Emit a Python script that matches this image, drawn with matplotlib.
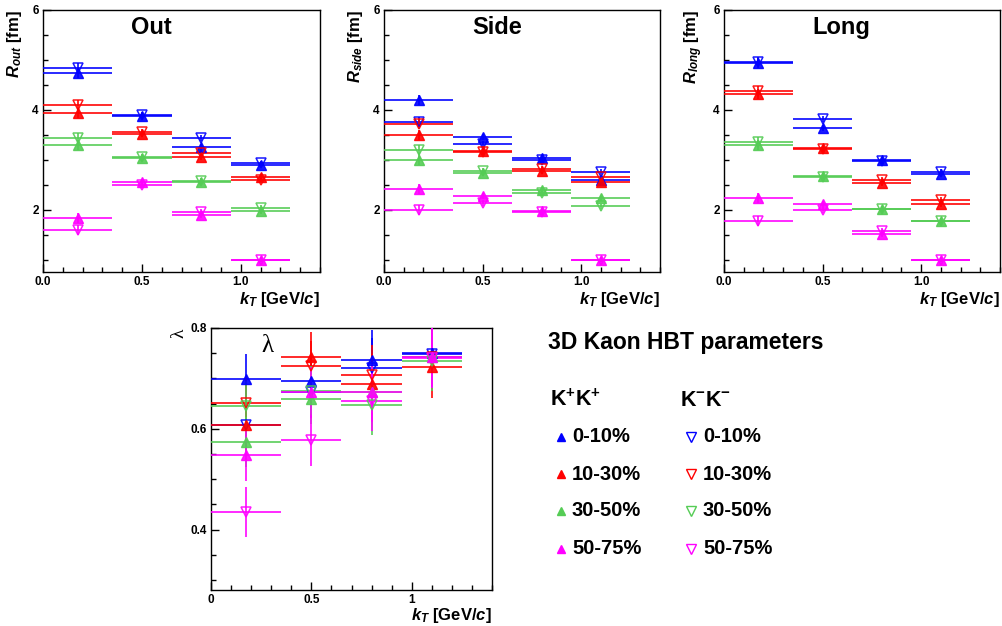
import matplotlib
matplotlib.use("Agg")
import matplotlib.pyplot as plt
from matplotlib.ticker import MultipleLocator, FixedLocator
from matplotlib.lines import Line2D

plt.rcParams['font.family'] = ['Liberation Sans', 'DejaVu Sans']
plt.rcParams['mathtext.fontset'] = 'custom'
plt.rcParams['mathtext.it'] = 'Liberation Sans:bold:italic'
plt.rcParams['mathtext.rm'] = 'Liberation Sans:bold'
plt.rcParams['mathtext.bf'] = 'Liberation Sans:bold'

# ---------------- data ----------------
kt = [0.175, 0.5, 0.8, 1.1]
kt_lo = [0.0, 0.35, 0.65, 0.95]
kt_hi = [0.35, 0.65, 0.95, 1.25]

centralities = ['0-10%', '10-30%', '30-50%', '50-75%']
colors = ['#0000ff', '#ff0000', '#55cc55', '#ff00ff']

rout_kp = [[4.73, 3.87, 3.25, 2.90], [3.94, 3.51, 3.05, 2.66],
           [3.30, 3.03, 2.56, 1.97], [1.83, 2.56, 1.89, 1.00]]
rout_km = [[4.84, 3.89, 3.44, 2.93], [4.09, 3.56, 3.14, 2.60],
           [3.43, 3.05, 2.58, 2.04], [1.60, 2.49, 1.95, 1.00]]

rside_kp = [[4.20, 3.45, 3.03, 2.59], [3.49, 3.18, 2.77, 2.55],
            [2.99, 2.74, 2.39, 2.23], [2.42, 2.28, 1.98, 1.00]]
rside_km = [[3.75, 3.32, 2.99, 2.76], [3.72, 3.16, 2.82, 2.66],
            [3.19, 2.78, 2.33, 2.07], [1.99, 2.13, 1.95, 1.00]]

rlong_kp = [[4.93, 3.63, 2.99, 2.72], [4.31, 3.23, 2.53, 2.11],
            [3.29, 2.67, 2.02, 1.78], [2.23, 2.11, 1.51, 1.00]]
rlong_km = [[4.95, 3.81, 2.98, 2.76], [4.38, 3.21, 2.60, 2.20],
            [3.35, 2.66, 2.01, 1.77], [1.78, 2.00, 1.57, 1.00]]

lam_kp = [[0.698, 0.694, 0.737, 0.750], [0.607, 0.743, 0.688, 0.722],
          [0.574, 0.659, 0.673, 0.742], [0.547, 0.672, 0.673, 0.742]]
lam_km = [[0.607, 0.672, 0.721, 0.748], [0.652, 0.725, 0.707, 0.742],
          [0.645, 0.674, 0.648, 0.734], [0.435, 0.577, 0.655, 0.740]]

r_err = [0.10, 0.06, 0.06, 0.05]
lam_err = [0.05, 0.05, 0.06, 0.06]

# ---------------- figure ----------------
W, H = 1003, 626
fig = plt.figure(figsize=(W / 100, H / 100), dpi=100)


def px_axes(left, top, right, bottom):
    return fig.add_axes([left / W, 1 - bottom / H, (right - left) / W, (bottom - top) / H])


def style_axes(ax):
    ax.tick_params(axis='both', which='both', direction='in', top=False, right=False,
                   labelsize=8.5, width=1.0, pad=3)
    ax.tick_params(axis='both', which='major', length=6)
    ax.tick_params(axis='both', which='minor', length=3.5)
    for lab in ax.get_xticklabels() + ax.get_yticklabels():
        lab.set_fontweight('bold')
    for sp in ax.spines.values():
        sp.set_linewidth(1.0)


def draw_series(ax, kp, km, err):
    xl = [c - lo for c, lo in zip(kt, kt_lo)]
    xh = [hi - c for c, hi in zip(kt, kt_hi)]
    for i in range(4):
        ax.errorbar(kt, kp[i], xerr=[xl, xh], yerr=err, fmt='^', color=colors[i],
                    ms=6.5, mec=colors[i], mfc=colors[i], elinewidth=1.3, capsize=0,
                    alpha=0.9, zorder=3)
        ax.errorbar(kt, km[i], xerr=[xl, xh], yerr=err, fmt='v', color=colors[i],
                    ms=7.5, mec=colors[i], mfc='none', mew=1.1, elinewidth=1.3, capsize=0,
                    alpha=0.9, zorder=3)


panels = [
    ('Out', 'out', rout_kp, rout_km, (43, 10, 320, 272), 0.393),
    ('Side', 'side', rside_kp, rside_km, (384, 10, 660, 272), 0.41),
    ('Long', 'long', rlong_kp, rlong_km, (724, 10, 1000, 272), 0.424),
]

for title, sub, kp, km, box, tx in panels:
    ax = px_axes(*box)
    draw_series(ax, kp, km, r_err)
    ax.set_xlim(0, 1.4)
    ax.set_ylim(0.75, 6.0)
    ax.xaxis.set_major_locator(FixedLocator([0.0, 0.5, 1.0]))
    ax.xaxis.set_minor_locator(MultipleLocator(0.1))
    ax.yaxis.set_major_locator(FixedLocator([2, 4, 6]))
    ax.yaxis.set_minor_locator(MultipleLocator(0.5))
    ax.set_xticklabels(['0.0', '0.5', '1.0'])
    ax.set_yticklabels(['2', '4', '6'])
    style_axes(ax)
    ax.text(tx, 0.935, title, transform=ax.transAxes, ha='center', va='center',
            fontsize=17, fontweight='bold')
    ax.set_ylabel(r'$R_{%s}$ [fm]' % sub, fontsize=12, fontweight='bold', loc='top')
    ax.yaxis.set_label_coords(-0.07, 1.0)
    ax.set_xlabel(r'$k_T$ [GeV/$c$]', fontsize=12, fontweight='bold', loc='right')
    ax.xaxis.set_label_coords(1.0, -0.068)
    ax.xaxis.label.set_va('top')

# lambda panel
axl = px_axes(211, 328, 492, 590)
draw_series(axl, lam_kp, lam_km, lam_err)
axl.set_xlim(0, 1.4)
axl.set_ylim(0.28, 0.8)
axl.xaxis.set_major_locator(FixedLocator([0, 0.5, 1.0]))
axl.xaxis.set_minor_locator(MultipleLocator(0.1))
axl.yaxis.set_major_locator(FixedLocator([0.4, 0.6, 0.8]))
axl.yaxis.set_minor_locator(MultipleLocator(0.05))
axl.set_xticklabels(['0', '0.5', '1'])
axl.set_yticklabels(['0.4', '0.6', '0.8'])
style_axes(axl)
axl.text(0.2, 0.93, 'λ', transform=axl.transAxes, ha='center', va='center',
         fontsize=18, family='Liberation Serif')
axl.set_ylabel('λ', fontsize=14, family='Liberation Serif', loc='top')
axl.yaxis.set_label_coords(-0.085, 1.0)
axl.set_xlabel(r'$k_T$ [GeV/$c$]', fontsize=12, fontweight='bold', loc='right')
axl.xaxis.set_label_coords(1.0, -0.06)
axl.xaxis.label.set_va('top')

# ---------------- legend ----------------
fig.text(548 / W, 1 - 342 / H, '3D Kaon HBT parameters', fontsize=16.5,
         fontweight='bold', ha='left', va='center')
fig.text(550 / W, 1 - 400 / H, r'K$^{+}$K$^{+}$', fontsize=15.5,
         fontweight='bold', ha='left', va='center')
fig.text(680 / W, 1 - 400 / H, r'K$^{-}$K$^{-}$', fontsize=15.5,
         fontweight='bold', ha='left', va='center')
rows_y = [437, 474, 511, 549]
for i, (lab, col) in enumerate(zip(centralities, colors)):
    y = 1 - rows_y[i] / H
    fig.add_artist(Line2D([561 / W], [y], marker='^', ms=6, color=col, mfc=col,
                          mec=col, transform=fig.transFigure))
    fig.add_artist(Line2D([691 / W], [y], marker='v', ms=6.5, color=col, mfc='none',
                          mec=col, mew=1.0, transform=fig.transFigure))
    fig.text(572 / W, y, lab, fontsize=14.5, fontweight='bold', ha='left', va='center')
    fig.text(703 / W, y, lab, fontsize=14.5, fontweight='bold', ha='left', va='center')

fig.savefig('out.png', dpi=100)
